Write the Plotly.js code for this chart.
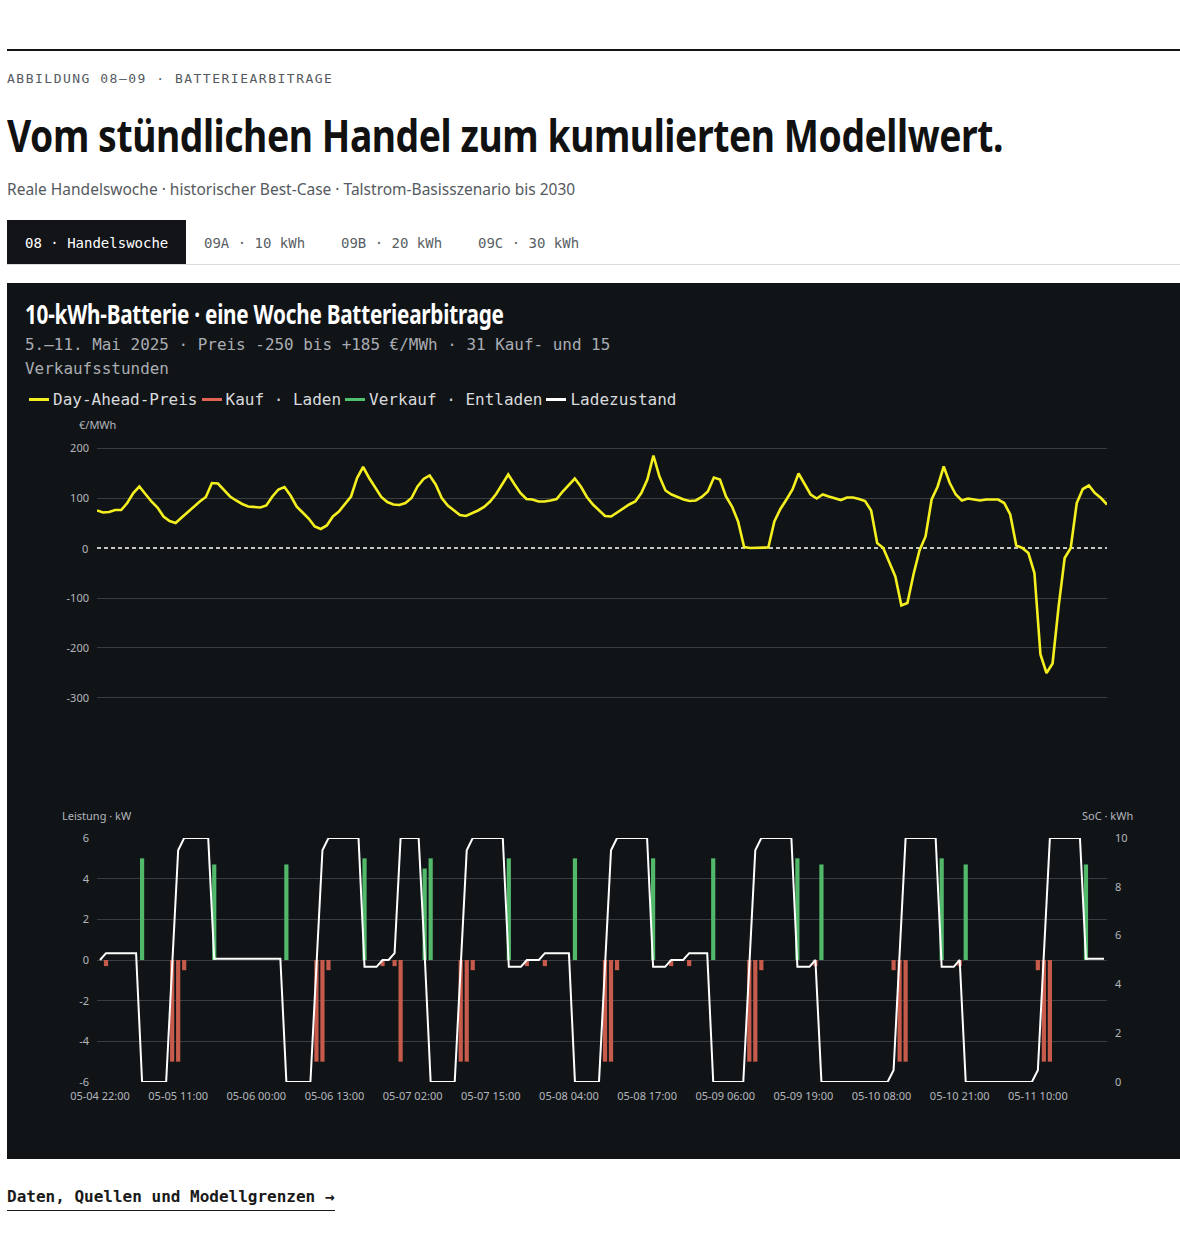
<!DOCTYPE html>
<html lang="de">
<head>
<meta charset="utf-8">
<script src="https://cdn.plot.ly/plotly-3.0.1.min.js"></script>
<style>
  html, body { margin: 0; padding: 0; background: #ffffff; }
  body { width: 1180px; height: 1233px; position: relative; overflow: hidden; }
  .abs { position: absolute; white-space: nowrap; }
  .mono { font-family: "DejaVu Sans Mono", "Liberation Mono", monospace; }
  .cond { font-family: "Noto Sans", "Open Sans", sans-serif; display: inline-block; transform-origin: 0 50%; }
  .sans { font-family: "Noto Sans", "Open Sans", sans-serif; }
  #rule { left: 7px; top: 49px; width: 1173px; height: 2px; background: #151515; }
  #kicker { left: 7px; top: 70px; font-size: 13px; line-height: 18px; letter-spacing: 1.5px; color: #555a60; }
  #h1 { left: 7px; top: 105px; font-size: 45px; line-height: 60px; font-weight: 700; color: #111; letter-spacing: -0.5px; }
  #sub { left: 7px; top: 179px; font-size: 15.5px; line-height: 20px; color: #555a60; }
  #tabs { left: 7px; top: 220px; width: 1173px; height: 44px; border-bottom: 1px solid #dcdcdc; }
  .tab { position: absolute; top: 0; height: 44px; line-height: 47px; font-size: 14px; color: #5a5f66; padding: 0 18px; }
  .tab.active { background: #121417; color: #ffffff; }
  #box { left: 7px; top: 283px; width: 1173px; height: 876px; background: #111417; }
  #h2 { left: 18px; top: 13px; font-size: 26px; line-height: 36px; font-weight: 700; color: #ffffff; letter-spacing: -0.3px; }
  #boxsub { left: 18px; top: 50px; width: 680px; white-space: normal; font-size: 15.95px; line-height: 24px; color: #a9adb3; }
  #legend { left: 22px; top: 107px; font-size: 16px; line-height: 20px; color: #d9dbde; }
  .li { display: inline-block; margin-right: 4px; }
  .sw { display: inline-block; width: 20px; height: 3px; vertical-align: middle; margin-right: 4px; position: relative; top: -1px; }
  #chart { position: absolute; left: 0; top: 129px; width: 1173px; height: 747px; }
  #foot { left: 7px; top: 1186px; font-size: 16px; line-height: 22px; font-weight: 700; color: #1a1a1a; border-bottom: 1px solid #1a1a1a; padding-bottom: 2px; }
</style>
</head>
<body>
<div id="rule" class="abs"></div>
<div id="kicker" class="abs mono">ABBILDUNG 08–09 · BATTERIEARBITRAGE</div>
<div id="h1" class="abs cond" data-w="996">Vom stündlichen Handel zum kumulierten Modellwert.</div>
<div id="sub" class="abs sans">Reale Handelswoche · historischer Best-Case · Talstrom-Basisszenario bis 2030</div>
<div id="tabs" class="abs mono">
  <div class="tab active" style="left:0">08 · Handelswoche</div>
  <div class="tab" style="left:179px">09A · 10 kWh</div>
  <div class="tab" style="left:316px">09B · 20 kWh</div>
  <div class="tab" style="left:453px">09C · 30 kWh</div>
</div>
<div id="box" class="abs">
  <div id="h2" class="abs cond" data-w="479">10-kWh-Batterie · eine Woche Batteriearbitrage</div>
  <div id="boxsub" class="abs mono">5.–11. Mai 2025 · Preis -250 bis +185 €/MWh · 31 Kauf- und 15 Verkaufsstunden</div>
  <div id="legend" class="abs mono">
    <span class="li"><span class="sw" style="background:#f4ef1e"></span>Day-Ahead-Preis</span><span class="li"><span class="sw" style="background:#e0644f"></span>Kauf · Laden</span><span class="li"><span class="sw" style="background:#4fc06d"></span>Verkauf · Entladen</span><span class="li"><span class="sw" style="background:#ffffff"></span>Ladezustand</span>
  </div>
  <div id="chart"></div>
</div>
<div id="foot" class="abs mono">Daten, Quellen und Modellgrenzen →</div>

<script>
// condensed headline look: squeeze the real text horizontally to the reference width
document.querySelectorAll('.cond').forEach(el => {
  const w = el.offsetWidth;
  const target = parseFloat(el.getAttribute('data-w'));
  if (w > 0) el.style.transform = 'scaleX(' + (target / w).toFixed(4) + ')';
});

// ---- data ----
const startUTC = Date.UTC(2025, 4, 4, 22); // first hour shown: 05-04 22:00
const hourCount = 168;

// Day-Ahead price, €/MWh, one value per hour
const price = [
  75, 71, 72, 76, 76, 90, 110, 123, 108, 93, 81, 63, 54, 50, 61, 72, 83, 93, 102, 130,
  129, 115, 103, 95, 88, 83, 82, 81, 85, 103, 117, 122, 105, 83, 71, 59, 43, 38, 45, 63,
  73, 87, 103, 140, 162, 140, 120, 102, 92, 87, 86, 90, 100, 123, 138, 145, 127, 100, 85, 75,
  66, 64, 69, 75, 82, 93, 108, 127, 147, 128, 110, 98, 97, 93, 93, 95, 98, 113, 127, 139,
  123, 102, 87, 75, 64, 63, 71, 80, 87, 93, 110, 137, 185, 143, 115, 107, 102, 97, 94, 95,
  102, 113, 141, 137, 103, 83, 53, 2, 0, 0, 0, 1, 53, 78, 97, 117, 149, 127, 107, 99,
  107, 103, 100, 96, 101, 101, 98, 94, 75, 10, 0, -27, -57, -115, -110, -53, -5, 23, 97, 123,
  163, 130, 107, 95, 99, 97, 95, 97, 97, 97, 90, 67, 5, 0, -10, -50, -213, -250, -231, -117,
  -20, 0, 90, 118, 125, 110, 100, 87
];

// Buy (charge) hours and power, kW (negative = charging)
const buyHours = [1, 12, 13, 14, 36, 37, 38, 47, 49, 50, 60, 61, 62, 71, 74, 84, 85, 86, 95, 98, 108, 109, 110, 119, 132, 133, 134, 143, 156, 157, 158];
const buyKW    = [-0.3, -5, -5, -0.5, -5, -5, -0.5, -0.3, -0.3, -5, -5, -5, -0.5, -0.3, -0.3, -5, -5, -0.5, -0.3, -0.3, -5, -5, -0.5, -0.3, -0.5, -5, -5, -0.3, -0.5, -5, -5];

// Sell (discharge) hours and power, kW
const sellHours = [7, 19, 31, 44, 54, 55, 68, 79, 92, 102, 116, 120, 140, 144, 164];
const sellKW    = [5, 4.7, 4.7, 5, 4.5, 5, 5, 5, 5, 5, 5, 4.7, 5, 4.7, 4.7];

// State of charge, kWh, one value per hour
const soc = [
  5.0, 5.28, 5.28, 5.28, 5.28, 5.28, 5.28, 0, 0, 0, 0, 0, 4.75, 9.5, 10, 10, 10, 10, 10, 5.05,
  5.05, 5.05, 5.05, 5.05, 5.05, 5.05, 5.05, 5.05, 5.05, 5.05, 5.05, 0, 0, 0, 0, 0, 4.75, 9.5, 10, 10,
  10, 10, 10, 10, 4.72, 4.72, 4.72, 5.0, 5.0, 5.28, 10, 10, 10, 10, 5.26, 0, 0, 0, 0, 0,
  4.75, 9.5, 10, 10, 10, 10, 10, 10, 4.72, 4.72, 4.72, 5.0, 5.0, 5.0, 5.28, 5.28, 5.28, 5.28, 5.28, 0,
  0, 0, 0, 0, 4.75, 9.5, 10, 10, 10, 10, 10, 10, 4.72, 4.72, 4.72, 5.0, 5.0, 5.0, 5.28, 5.28,
  5.28, 5.28, 0, 0, 0, 0, 0, 0, 4.75, 9.5, 10, 10, 10, 10, 10, 10, 4.72, 4.72, 4.72, 5.0,
  0, 0, 0, 0, 0, 0, 0, 0, 0, 0, 0, 0, 0.48, 5.2, 10, 10, 10, 10, 10, 10,
  4.72, 4.72, 4.72, 5.0, 0, 0, 0, 0, 0, 0, 0, 0, 0, 0, 0, 0, 0.48, 5.2, 10, 10,
  10, 10, 10, 10, 5.05, 5.05, 5.05, 5.05
];

// price gridlines (zero is drawn as a dashed reference line instead)
const priceGridTicks = [-300, -200, -100, 100, 200];
const priceGridText = ['-300', '-200', '-100', '100', '200'];
const kwTicks = [-6, -4, -2, 0, 2, 4, 6];
const kwTickText = ['-6', '-4', '-2', '0', '2', '4', '6'];
const socTicks = [0, 2, 4, 6, 8, 10];
const tickEvery = 13;

// ---- hour labels ----
function pad(n) { return (n < 10 ? '0' : '') + n; }
const hours = [];
for (let i = 0; i < hourCount; i++) {
  const d = new Date(startUTC + i * 3600e3);
  hours.push(pad(d.getUTCMonth() + 1) + '-' + pad(d.getUTCDate()) + ' ' + pad(d.getUTCHours()) + ':00');
}
const xTicks = hours.filter((_, i) => i % tickEvery === 0);

const BG = '#111417';
const GRID = '#3a3d42';
const TICK = '#b3b7bd';
const FAM = '"Noto Sans", "Open Sans", sans-serif';
const tickFont = { family: FAM, size: 11, color: TICK };

const traces = [
  { type: 'scatter', mode: 'lines', x: hours, y: price, xaxis: 'x', yaxis: 'y',
    line: { color: '#f4ef1e', width: 2.6 }, name: 'Day-Ahead-Preis' },
  { type: 'bar', x: buyHours.map(i => hours[i]), y: buyKW, xaxis: 'x2', yaxis: 'y2',
    marker: { color: '#c65a4b' }, name: 'Kauf · Laden' },
  { type: 'bar', x: sellHours.map(i => hours[i]), y: sellKW, xaxis: 'x2', yaxis: 'y2',
    marker: { color: '#52b96b' }, name: 'Verkauf · Entladen' },
  { type: 'scatter', mode: 'lines', x: hours, y: soc, xaxis: 'x2', yaxis: 'y3',
    line: { color: '#ffffff', width: 2 }, name: 'Ladezustand' }
];

const layout = {
  width: 1173, height: 747,
  margin: { l: 90, r: 73, t: 31, b: 77 },
  paper_bgcolor: BG, plot_bgcolor: BG,
  showlegend: false,
  barmode: 'relative', bargap: 0.3,
  font: tickFont,
  xaxis: { domain: [0, 1], anchor: 'y', type: 'category', categoryorder: 'array', categoryarray: hours,
           range: [0, hourCount - 1], showgrid: false, zeroline: false, showticklabels: false, showline: false },
  yaxis: { domain: [0.5853, 1], anchor: 'x', range: [-320, 210], tickvals: priceGridTicks, ticktext: priceGridText,
           showgrid: true, gridcolor: GRID, gridwidth: 1, zeroline: false, showline: false, ticks: '',
           ticklabelstandoff: 7, tickfont: tickFont },
  xaxis2: { domain: [0, 1], anchor: 'y2', type: 'category', categoryorder: 'array', categoryarray: hours,
            range: [-0.5, hourCount - 0.5], tickvals: xTicks, ticktext: xTicks, tickangle: 0,
            showgrid: false, zeroline: false, showline: false, ticks: '', ticklabelstandoff: 6, tickfont: tickFont },
  yaxis2: { domain: [0, 0.3818], anchor: 'x2', range: [-6, 6], tickvals: kwTicks, ticktext: kwTickText,
            showgrid: true, gridcolor: GRID, gridwidth: 1, zeroline: false, showline: false, ticks: '',
            ticklabelstandoff: 7, tickfont: tickFont },
  yaxis3: { overlaying: 'y2', anchor: 'x2', side: 'right', range: [0, 10], tickvals: socTicks,
            showgrid: false, zeroline: false, showline: false, ticks: '', ticklabelstandoff: 7, tickfont: tickFont },
  shapes: [
    { type: 'line', xref: 'x domain', yref: 'y', x0: 0, x1: 1, y0: 0, y1: 0, layer: 'below',
      line: { color: '#ffffff', width: 1.4, dash: '4px,3px' } }
  ],
  annotations: [
    { text: '0', xref: 'x domain', yref: 'y', x: 0, y: 0, xanchor: 'right', yanchor: 'middle', xshift: -7,
      showarrow: false, font: tickFont },
    { text: '€/MWh', xref: 'paper', yref: 'paper', x: 0, y: 1.0282, xanchor: 'center', yanchor: 'middle',
      showarrow: false, font: tickFont },
    { text: 'Leistung · kW', xref: 'paper', yref: 'paper', x: 0, y: 0.4163, xanchor: 'center', yanchor: 'middle',
      showarrow: false, font: tickFont },
    { text: 'SoC · kWh', xref: 'paper', yref: 'paper', x: 1, y: 0.4163, xanchor: 'center', yanchor: 'middle',
      showarrow: false, font: tickFont }
  ]
};

Plotly.newPlot('chart', traces, layout, { displayModeBar: false, staticPlot: true });
</script>
</body>
</html>
